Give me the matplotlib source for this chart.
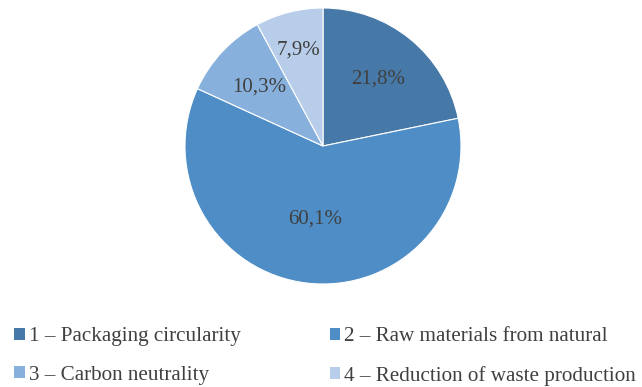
import matplotlib
matplotlib.use("Agg")
import matplotlib.pyplot as plt
from matplotlib.patches import Patch
import numpy as np

categories = ["1 – Packaging circularity", "2 – Raw materials from natural",
              "3 – Carbon neutrality", "4 – Reduction of waste production"]
values = [21.8, 60.1, 10.3, 7.9]
labels = ["21,8%", "60,1%", "10,3%", "7,9%"]
colors = ["#4679a8", "#4f8dc6", "#87b0dc", "#b8cde9"]
label_dist = [0.63, 0.53, 0.63, 0.72]

plt.rcParams['font.family'] = ['Liberation Serif', 'DejaVu Serif']

W, H = 642, 387
fig = plt.figure(figsize=(W/100, H/100), dpi=100)
cx, cy, r = 323, 146, 138
ax = fig.add_axes([(cx - r)/W, 1 - (cy + r)/H, 2*r/W, 2*r/H])
wedges, _ = ax.pie(values, colors=colors, startangle=90, counterclock=False,
                   radius=1, wedgeprops=dict(edgecolor="white", linewidth=0.8))
ax.set_xlim(-1, 1); ax.set_ylim(-1, 1)
ax.set_aspect('equal')
ax.axis('off')

for w, lab, d in zip(wedges, labels, label_dist):
    ang = np.deg2rad((w.theta1 + w.theta2) / 2)
    ax.text(d*np.cos(ang), d*np.sin(ang), lab, ha='center', va='center',
            fontsize=15, color='#404040')

handles = [Patch(facecolor=c, edgecolor='none') for c in colors]
order = [0, 2, 1, 3]
fig.legend([handles[i] for i in order], [categories[i] for i in order],
           ncol=2, loc='upper left', bbox_to_anchor=(8/W, 1 - 321/H),
           frameon=False, fontsize=15.2, handlelength=0.5, handleheight=0.5,
           handletextpad=0.2, columnspacing=4.2, labelspacing=0.92,
           labelcolor='#404040', borderaxespad=0, borderpad=0.3)

fig.savefig("out.png", dpi=100)
